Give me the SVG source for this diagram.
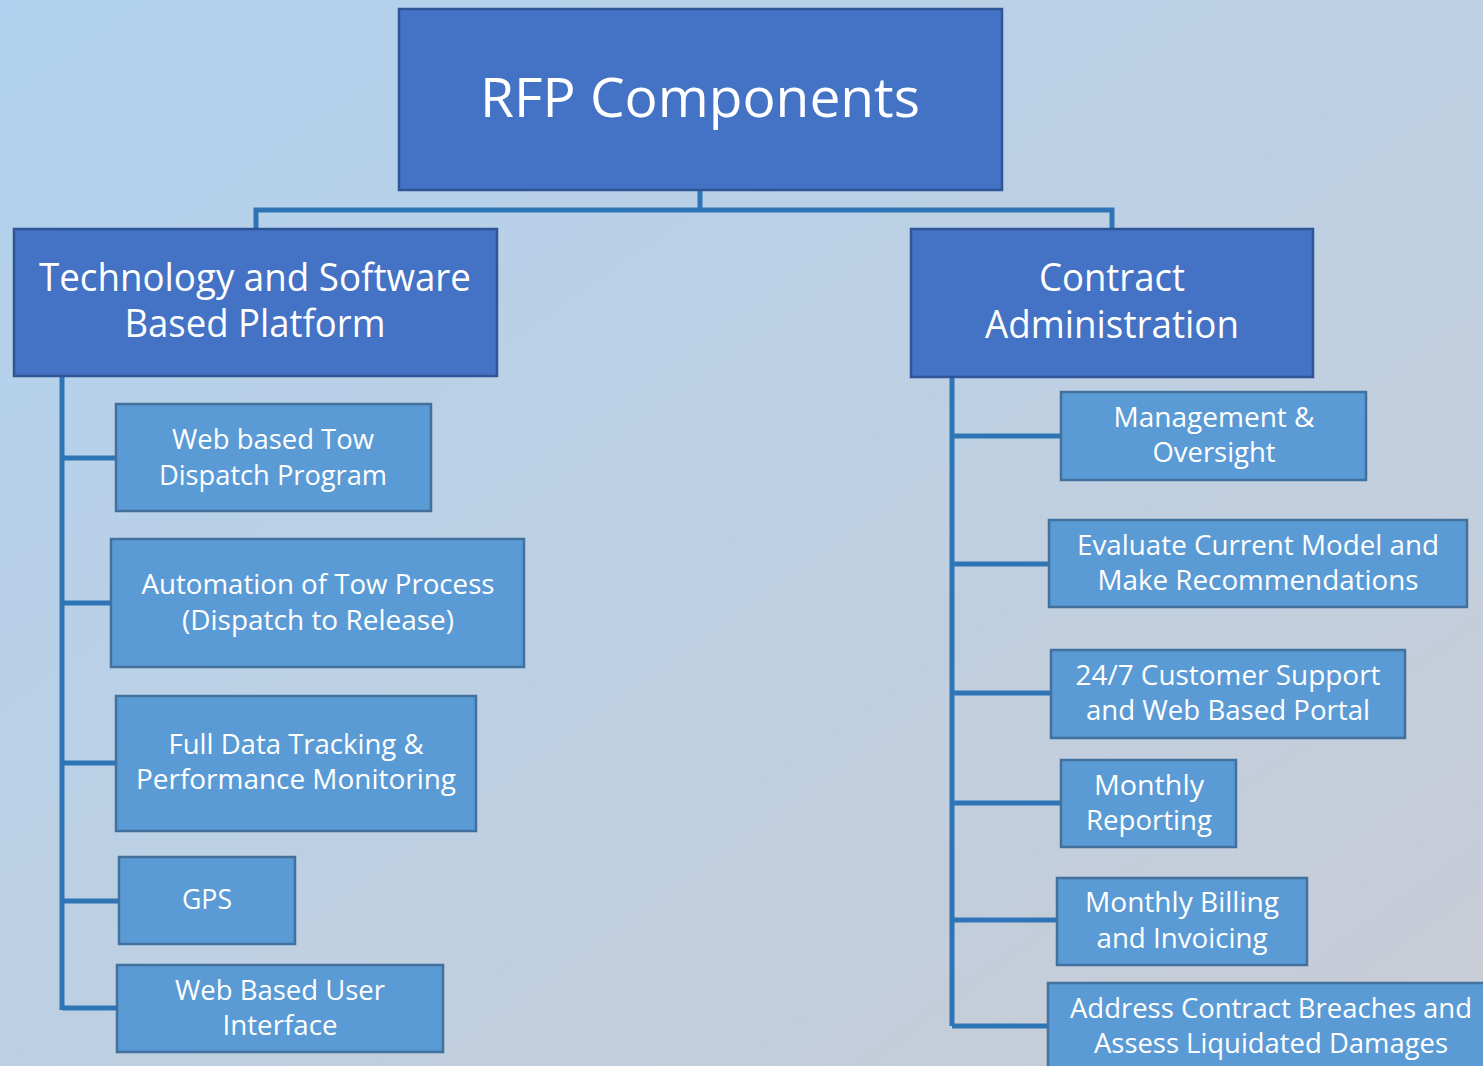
<svg xmlns="http://www.w3.org/2000/svg" width="1483" height="1066" viewBox="0 0 1483 1066">
<defs>
<linearGradient id="bg" x1="0" y1="0" x2="1" y2="1">
<stop offset="0" stop-color="#b1d1ee"/>
<stop offset="0.5" stop-color="#bdd0e3"/>
<stop offset="1" stop-color="#c9ccd5"/>
</linearGradient>
<style>
.top{fill:#4472c4;stroke:#2f5597;stroke-width:2.5}
.child{fill:#5b9bd5;stroke:#41719c;stroke-width:2.5}
.t{font-family:"Open Sans","Noto Sans",sans-serif;fill:#ffffff;text-anchor:middle}
.t0{font-size:55px}
.t1{font-size:39px}
.t2{font-size:26.5px}
.conn{fill:none;stroke:#2e75b6;stroke-width:5}
</style>
</defs>
<rect width="1483" height="1066" fill="url(#bg)"/>
<g id="connectors">
<path class="conn" d="M700 190V210M256 229V210H1112V229"/>
<path class="conn" d="M62 376V1010M62 458H116M62 603H111M62 763H116M62 901H119M62 1008H117"/>
<path class="conn" d="M952 377V1026M952 436H1061M952 564H1049M952 693H1051M952 803H1061M952 920H1057M952 1026H1048"/>
</g>
<g id="root">
<rect class="top" x="399" y="9" width="603" height="181"/>
<text class="t t0" x="700" y="117" textLength="440" lengthAdjust="spacingAndGlyphs">RFP Components</text>
</g>
<g id="tech">
<rect class="top" x="14" y="229" width="483" height="147"/>
<text class="t t1" x="255" y="291" textLength="432" lengthAdjust="spacingAndGlyphs">Technology and Software</text>
<text class="t t1" x="255" y="337" textLength="261" lengthAdjust="spacingAndGlyphs">Based Platform</text>
</g>
<g id="contract">
<rect class="top" x="911" y="229" width="402" height="148"/>
<text class="t t1" x="1112" y="291" textLength="146" lengthAdjust="spacingAndGlyphs">Contract</text>
<text class="t t1" x="1112" y="338" textLength="254" lengthAdjust="spacingAndGlyphs">Administration</text>
</g>
<g id="web-dispatch">
<rect class="child" x="116" y="404" width="315" height="107"/>
<text class="t t2" x="273" y="449" textLength="202" lengthAdjust="spacingAndGlyphs">Web based Tow</text>
<text class="t t2" x="273" y="485" textLength="228" lengthAdjust="spacingAndGlyphs">Dispatch Program</text>
</g>
<g id="automation">
<rect class="child" x="111" y="539" width="413" height="128"/>
<text class="t t2" x="318" y="594" textLength="353" lengthAdjust="spacingAndGlyphs">Automation of Tow Process</text>
<text class="t t2" x="318" y="630" textLength="272" lengthAdjust="spacingAndGlyphs">(Dispatch to Release)</text>
</g>
<g id="tracking">
<rect class="child" x="116" y="696" width="360" height="135"/>
<text class="t t2" x="296" y="754" textLength="255" lengthAdjust="spacingAndGlyphs">Full Data Tracking &amp;</text>
<text class="t t2" x="296" y="789" textLength="320" lengthAdjust="spacingAndGlyphs">Performance Monitoring</text>
</g>
<g id="gps">
<rect class="child" x="119" y="857" width="176" height="87"/>
<text class="t t2" x="207" y="909" textLength="50" lengthAdjust="spacingAndGlyphs">GPS</text>
</g>
<g id="web-ui">
<rect class="child" x="117" y="965" width="326" height="87"/>
<text class="t t2" x="280" y="1000" textLength="210" lengthAdjust="spacingAndGlyphs">Web Based User</text>
<text class="t t2" x="280" y="1035" textLength="115" lengthAdjust="spacingAndGlyphs">Interface</text>
</g>
<g id="management">
<rect class="child" x="1061" y="392" width="305" height="88"/>
<text class="t t2" x="1214" y="427" textLength="201" lengthAdjust="spacingAndGlyphs">Management &amp;</text>
<text class="t t2" x="1214" y="462" textLength="123" lengthAdjust="spacingAndGlyphs">Oversight</text>
</g>
<g id="evaluate">
<rect class="child" x="1049" y="520" width="418" height="87"/>
<text class="t t2" x="1258" y="555" textLength="362" lengthAdjust="spacingAndGlyphs">Evaluate Current Model and</text>
<text class="t t2" x="1258" y="590" textLength="321" lengthAdjust="spacingAndGlyphs">Make Recommendations</text>
</g>
<g id="support">
<rect class="child" x="1051" y="650" width="354" height="88"/>
<text class="t t2" x="1228" y="685" textLength="305" lengthAdjust="spacingAndGlyphs">24/7 Customer Support</text>
<text class="t t2" x="1228" y="720" textLength="284" lengthAdjust="spacingAndGlyphs">and Web Based Portal</text>
</g>
<g id="reporting">
<rect class="child" x="1061" y="760" width="175" height="87"/>
<text class="t t2" x="1149" y="795" textLength="110" lengthAdjust="spacingAndGlyphs">Monthly</text>
<text class="t t2" x="1149" y="830" textLength="126" lengthAdjust="spacingAndGlyphs">Reporting</text>
</g>
<g id="billing">
<rect class="child" x="1057" y="878" width="250" height="87"/>
<text class="t t2" x="1182" y="912" textLength="194" lengthAdjust="spacingAndGlyphs">Monthly Billing</text>
<text class="t t2" x="1182" y="948" textLength="171" lengthAdjust="spacingAndGlyphs">and Invoicing</text>
</g>
<g id="breaches">
<rect class="child" x="1048" y="983" width="445" height="100"/>
<text class="t t2" x="1271" y="1018" textLength="402" lengthAdjust="spacingAndGlyphs">Address Contract Breaches and</text>
<text class="t t2" x="1271" y="1053" textLength="354" lengthAdjust="spacingAndGlyphs">Assess Liquidated Damages</text>
</g>
</svg>
